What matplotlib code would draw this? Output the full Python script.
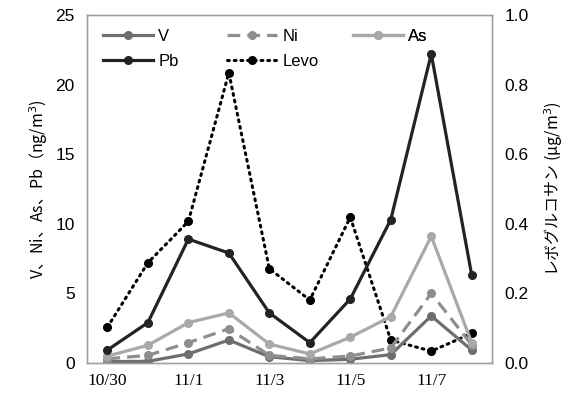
import numpy as np
import matplotlib.pyplot as plt

plt.rcParams['font.family'] = ['Liberation Sans', 'Noto Sans CJK JP', 'DejaVu Sans']

# 日付 (10/30 - 11/8)
dates = ['10/30', '10/31', '11/1', '11/2', '11/3', '11/4', '11/5', '11/6', '11/7', '11/8']
V = [0.1, 0.12, 0.65, 1.65, 0.45, 0.17, 0.27, 0.6, 3.38, 0.93]
Ni = [0.3, 0.55, 1.46, 2.46, 0.55, 0.3, 0.5, 1.08, 5.0, 1.3]
As = [0.5, 1.27, 2.9, 3.6, 1.36, 0.65, 1.85, 3.33, 9.1, 1.45]
Pb = [0.93, 2.9, 8.9, 7.9, 3.6, 1.46, 4.6, 10.3, 22.2, 6.3]
Levo = [0.103, 0.288, 0.407, 0.834, 0.271, 0.181, 0.419, 0.066, 0.034, 0.085]

x = np.arange(len(dates))

fig = plt.figure(figsize=(5.85, 4), dpi=100)
ax = fig.add_axes([0.149, 0.0925, 0.692, 0.87])
ax2 = ax.twinx()

lw = 2.3
ms = 5.5
l_v, = ax.plot(x, V, color='#6e6e6e', lw=lw, marker='o', ms=ms, label='V')
l_ni, = ax.plot(x, Ni, color='#8e8e8e', lw=lw, ls=(0, (4, 2.2)), marker='o', ms=ms, label='Ni')
l_as, = ax.plot(x, As, color='#a9a9a9', lw=lw, marker='o', ms=ms, label='As')
l_pb, = ax.plot(x, Pb, color='#232323', lw=lw, marker='o', ms=ms, label='Pb')
l_levo, = ax2.plot(x, Levo, color='black', lw=2.2, ls=(0, (0.6, 1.6)), dash_capstyle='round',
                   marker='o', ms=ms, label='Levo')
ax.set_zorder(ax2.get_zorder() + 1)
ax.patch.set_visible(False)

ax.set_xlim(-0.5, 9.5)
ax.set_ylim(0, 25)
ax2.set_ylim(0, 1.0)
ax.set_yticks([0, 5, 10, 15, 20, 25])
ax2.set_yticks([0, 0.2, 0.4, 0.6, 0.8, 1.0])
ax2.set_yticklabels(['0.0', '0.2', '0.4', '0.6', '0.8', '1.0'])
ax.set_xticks(x[::2])
ax.set_xticklabels(dates[::2], family=['Liberation Serif', 'Noto Sans CJK JP'])

ax.tick_params(axis='y', length=0, labelsize=12.5, pad=9)
ax.tick_params(axis='x', length=0, labelsize=12.5, pad=7)
ax2.tick_params(axis='y', length=0, labelsize=12.5, pad=9)

for a in (ax, ax2):
    for s in a.spines.values():
        s.set_color('#a0a0a0')
        s.set_linewidth(1.0)

ax.set_ylabel('V、Ni、As、Pb（ng/m$^3$)', fontsize=11.5,
              family=['Noto Sans CJK JP', 'DejaVu Sans'], labelpad=4)
ax2.set_ylabel('レボグルコサン (μg/m$^3$)', fontsize=11.5,
               family=['Noto Sans CJK JP', 'DejaVu Sans'], labelpad=10)

# 凡例: 3列を別々に配置
cols = [([l_v, l_pb], 0.04), ([l_ni, l_levo], 0.346), ([l_as], 0.657)]
for hs, xpos in cols:
    leg = ax.legend(handles=hs, labels=[h.get_label() for h in hs],
                    loc='upper left', bbox_to_anchor=(xpos, 0.961), frameon=False,
                    fontsize=12, handlelength=3.0, handletextpad=0.3,
                    labelspacing=0.6, borderpad=0, borderaxespad=0)
    ax.add_artist(leg)

plt.savefig('out.png', dpi=100)
